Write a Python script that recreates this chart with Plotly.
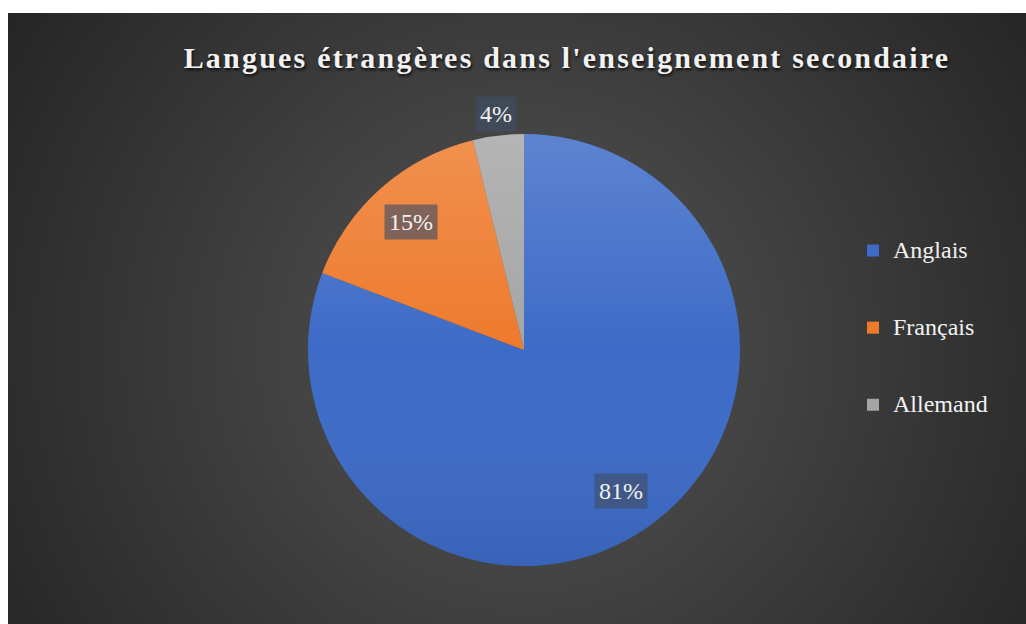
import base64
import math
import plotly.graph_objects as go

# donnees
langues = ["Anglais", "Français", "Allemand"]
parts = [80.8, 15.4, 3.8]
couleurs = ["#3D6BC7", "#EE7A2C", "#A5A5A5"]

titre = "Langues étrangères dans l'enseignement secondaire"

W, H = 1026, 624
FONT = "Liberation Serif"


def svg_uri(svg):
    return "data:image/svg+xml;base64," + base64.b64encode(svg.encode()).decode()


# fond sombre en degrade radial (style Excel)
fond = svg_uri(
    '<svg xmlns="http://www.w3.org/2000/svg" width="1018" height="611" '
    'viewBox="0 0 1018 611" preserveAspectRatio="none">'
    '<defs><radialGradient id="g" gradientUnits="userSpaceOnUse" cx="515" cy="335" r="640">'
    '<stop offset="0" stop-color="#555555"/><stop offset="1" stop-color="#232323"/>'
    '</radialGradient></defs><rect width="1018" height="611" fill="url(#g)"/></svg>'
)

# reflet vertical sur le disque
reflet = svg_uri(
    '<svg xmlns="http://www.w3.org/2000/svg" width="100" height="100" viewBox="0 0 100 100">'
    '<defs><linearGradient id="l" x1="0" y1="0" x2="0" y2="1">'
    '<stop offset="0" stop-color="#ffffff" stop-opacity="0.17"/>'
    '<stop offset="0.5" stop-color="#ffffff" stop-opacity="0"/>'
    '<stop offset="1" stop-color="#000000" stop-opacity="0.08"/>'
    '</linearGradient></defs><circle cx="50" cy="50" r="50" fill="url(#l)"/></svg>'
)

# position du camembert (pixels)
cx, cy, R = 524, 350, 216
dom_x = [(cx - R) / W, (cx + R) / W]
dom_y = [1 - (cy + R) / H, 1 - (cy - R) / H]

legend_labels = [
    "\u00a0<br><span style='font-size:24px'>" + l + "</span><br>\u00a0" for l in langues
]

fig = go.Figure(
    go.Pie(
        labels=legend_labels,
        values=parts,
        customdata=langues,
        sort=False,
        direction="clockwise",
        rotation=0,
        marker=dict(colors=couleurs, line=dict(width=0)),
        textinfo="none",
        hovertemplate="%{customdata}: %{percent:.0%}<extra></extra>",
        domain=dict(x=dom_x, y=dom_y),
    )
)

# etiquettes de donnees avec fond, placees a partir des valeurs
total = sum(parts)
cumul = 0
annotations = []
for v in parts:
    frac = v / total
    mid = (cumul + frac / 2) * 2 * math.pi
    cumul += frac
    r = R * (1.1 if frac < 0.05 else 0.79)
    px_ = cx + r * math.sin(mid)
    py_ = cy - r * math.cos(mid)
    annotations.append(
        dict(
            x=px_ / W, y=1 - py_ / H, xref="paper", yref="paper",
            text=f"{round(frac * 100)}%", showarrow=False,
            font=dict(family=FONT, size=24, color="#f2f2f2"),
            bgcolor="rgba(64,78,102,0.64)", borderpad=4,
            xanchor="center", yanchor="middle",
        )
    )

fig.update_layout(
    width=W,
    height=H,
    margin=dict(l=0, r=0, t=0, b=0),
    paper_bgcolor="white",
    title=dict(
        text="<span style='letter-spacing:2.2px'>" + titre + "</span>",
        x=567 / W, xanchor="center",
        y=1 - 57 / H, yanchor="middle",
        font=dict(family=FONT, size=30, color="#f2f2f2", weight="bold",
                  shadow="1px 2px 3px rgba(0,0,0,0.8)"),
    ),
    legend=dict(
        x=853 / W, xanchor="left",
        y=1 - 328 / H, yanchor="middle",
        font=dict(family=FONT, size=19, color="#f2f2f2"),
        bgcolor="rgba(0,0,0,0)",
        valign="middle",
    ),
    images=[
        dict(source=fond, xref="paper", yref="paper", x=8 / W, y=1 - 13 / H,
             sizex=1018 / W, sizey=611 / H, sizing="stretch", layer="below"),
        dict(source=reflet, xref="paper", yref="paper", x=dom_x[0], y=dom_y[1],
             sizex=dom_x[1] - dom_x[0], sizey=dom_y[1] - dom_y[0],
             sizing="stretch", layer="above"),
    ],
    annotations=annotations,
)

fig.write_html("out.html", config={"displayModeBar": False},
               post_script="document.body.style.margin='0';")
